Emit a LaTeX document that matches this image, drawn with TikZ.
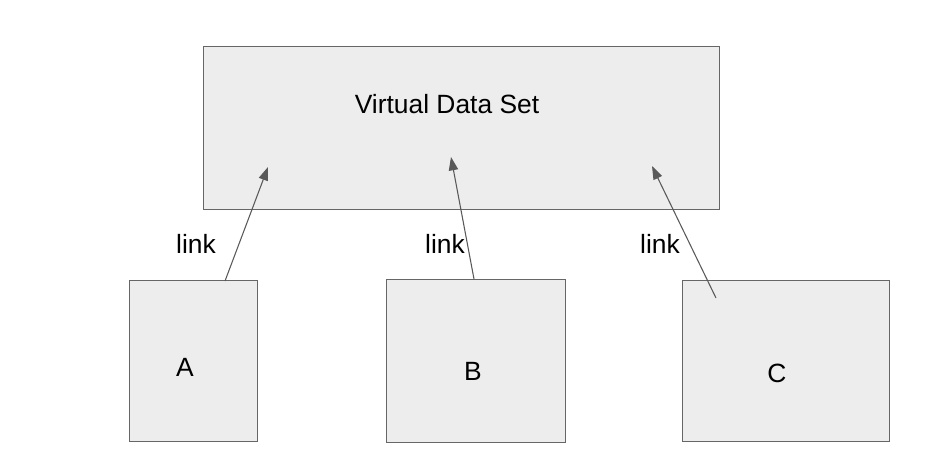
\documentclass[tikz,border=0pt]{standalone}
\usepackage{fontspec}
\setmainfont{Liberation Sans}
\usetikzlibrary{arrows.meta}
\begin{document}
\begin{tikzpicture}[x=0.75pt,y=-0.75pt,
  box/.style={draw=black!60,fill=black!7,line width=1pt,inner sep=0pt,anchor=north west},
  lbl/.style={font=\fontsize{19.8}{23}\selectfont,inner sep=0pt},
  lnk/.style={draw=black!65,line width=0.8pt,-{Triangle[length=10pt,width=7pt]}}]
\useasboundingbox (0,0) rectangle (951,462);
\node[box,minimum width=387pt,minimum height=122.25pt] (vds) at (203,46) {};
\node[box,minimum width=96pt,minimum height=120.75pt] (a) at (129,280) {};
\node[box,minimum width=134.25pt,minimum height=122.25pt] (b) at (386,279) {};
\node[box,minimum width=155.25pt,minimum height=120.75pt] (c) at (682,280) {};
\node[lbl] (tv) at (447,104) {Virtual Data Set};
\node[lbl] (ta) at (185,367) {A};
\node[lbl] (tb) at (473,371) {B};
\node[lbl] (tc) at (777,373) {C};
\node[lbl] (l1) at (196,244) {link};
\node[lbl] (l2) at (445,244) {link};
\node[lbl] (l3) at (660,244) {link};
\coordinate (sa) at (225,281);
\coordinate (ea) at (268,167);
\coordinate (sb) at (474,279);
\coordinate (eb) at (451,157);
\coordinate (sc) at (716,298);
\coordinate (ec) at (652,166);
\draw[lnk] (sa) -- (ea);
\draw[lnk] (sb) -- (eb);
\draw[lnk] (sc) -- (ec);
\end{tikzpicture}
\end{document}
